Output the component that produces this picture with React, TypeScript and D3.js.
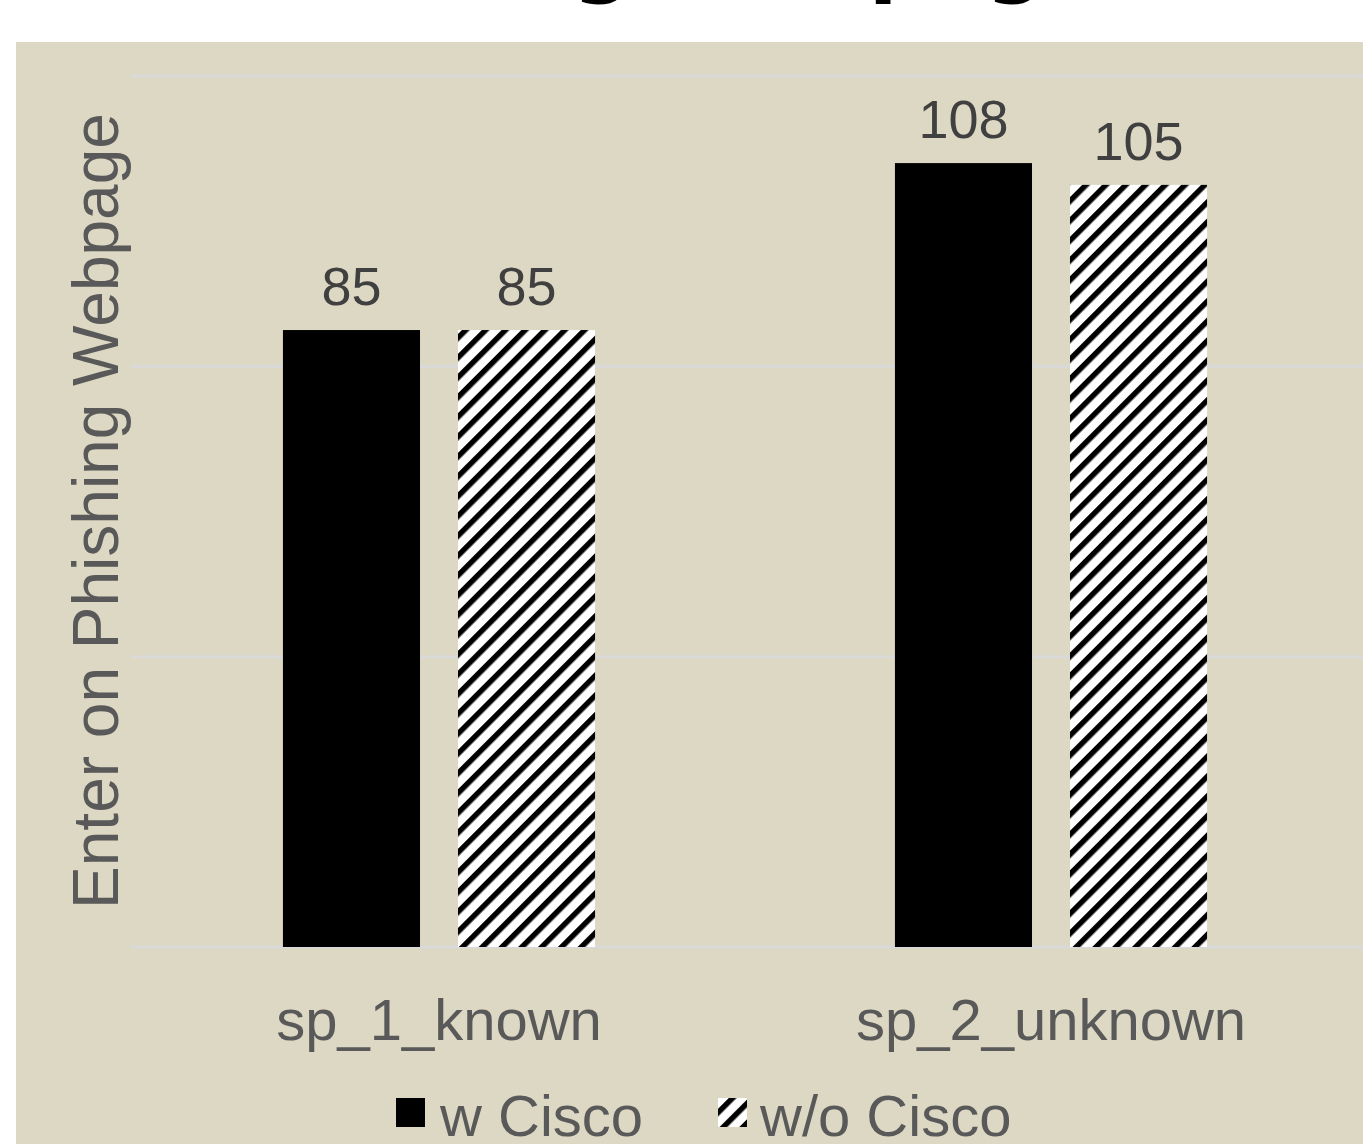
import React, { useEffect, useRef } from 'react';
import * as d3 from 'd3';

const categories = ['sp_1_known', 'sp_2_unknown'];
const seriesNames = ['w Cisco', 'w/o Cisco'];
const wCisco = [85, 108];
const woCisco = [85, 105];
const gridTicks = [0, 40, 80, 120];

const App = () => {
  const ref = useRef<SVGSVGElement | null>(null);

  useEffect(() => {
    const svg = d3.select(ref.current);
    svg.selectAll('*').remove();

    const width = 1363;
    const height = 1144;
    const font = '"Liberation Sans", Arial, sans-serif';

    const defs = svg.append('defs');
    const pat = defs.append('pattern')
      .attr('id', 'hatch')
      .attr('patternUnits', 'userSpaceOnUse')
      .attr('width', 14)
      .attr('height', 14)
      .attr('patternTransform', 'rotate(45)');
    pat.append('rect').attr('width', 14).attr('height', 14).attr('fill', '#fff');
    pat.append('rect').attr('width', 5.5).attr('height', 14).attr('fill', '#000');

    // title, mostly above the visible area (only descenders show)
    svg.append('text')
      .attr('x', 224)
      .attr('y', -13)
      .style('font-family', '"DejaVu Sans", sans-serif')
      .style('font-weight', 'bold')
      .style('font-size', '84px')
      .attr('fill', '#000')
      .text('Phishing Webpage');

    svg.append('rect')
      .attr('x', 16)
      .attr('y', 42)
      .attr('width', width - 16)
      .attr('height', height - 42)
      .attr('fill', '#ddd8c3');

    const x0 = d3.scaleBand<string>()
      .domain(categories)
      .range([133, 1357])
      .paddingInner(0.49)
      .paddingOuter(0.245);
    const x1 = d3.scaleBand<string>()
      .domain(seriesNames)
      .range([0, x0.bandwidth()])
      .paddingInner(0.217);
    const y = d3.scaleLinear().domain([0, 120]).range([947, 76]);

    svg.append('g')
      .selectAll('line')
      .data(gridTicks)
      .enter()
      .append('line')
      .attr('x1', 131)
      .attr('x2', width)
      .attr('y1', d => y(d))
      .attr('y2', d => y(d))
      .attr('stroke', '#d9d9d9')
      .attr('stroke-width', 3);

    const rows = categories.map((c, i) => [
      { cat: c, name: seriesNames[0], value: wCisco[i] },
      { cat: c, name: seriesNames[1], value: woCisco[i] },
    ]).flat();

    const fillFor = (name: string) => (name === seriesNames[0] ? '#000' : 'url(#hatch)');

    svg.append('g')
      .selectAll('rect')
      .data(rows)
      .enter()
      .append('rect')
      .attr('x', d => (x0(d.cat) ?? 0) + (x1(d.name) ?? 0))
      .attr('y', d => y(d.value))
      .attr('width', x1.bandwidth())
      .attr('height', d => y(0) - y(d.value))
      .attr('fill', d => fillFor(d.name));

    svg.append('g')
      .selectAll('text')
      .data(rows)
      .enter()
      .append('text')
      .attr('x', d => (x0(d.cat) ?? 0) + (x1(d.name) ?? 0) + x1.bandwidth() / 2)
      .attr('y', d => y(d.value) - 25)
      .attr('text-anchor', 'middle')
      .style('font-family', font)
      .style('font-size', '54px')
      .attr('fill', '#404040')
      .text(d => d.value);

    svg.append('g')
      .selectAll('text')
      .data(categories)
      .enter()
      .append('text')
      .attr('x', d => (x0(d) ?? 0) + x0.bandwidth() / 2)
      .attr('y', 1040)
      .attr('text-anchor', 'middle')
      .style('font-family', font)
      .style('font-size', '58px')
      .attr('fill', '#595959')
      .text(d => d);

    svg.append('text')
      .attr('transform', 'translate(118,511) rotate(-90)')
      .attr('text-anchor', 'middle')
      .style('font-family', font)
      .style('font-size', '64px')
      .attr('fill', '#595959')
      .text('Enter on Phishing Webpage');

    // legend (bottom is cropped like the source image)
    const legendX = [396, 718];
    const legend = svg.append('g')
      .selectAll('g')
      .data(seriesNames)
      .enter()
      .append('g')
      .attr('transform', (d, i) => `translate(${legendX[i]},0)`);
    legend.append('rect')
      .attr('x', 0)
      .attr('y', 1098)
      .attr('width', 29)
      .attr('height', 29)
      .attr('fill', d => fillFor(d));
    legend.append('text')
      .attr('x', (d, i) => (i === 0 ? 44 : 42))
      .attr('y', 1136)
      .style('font-family', font)
      .style('font-size', '58px')
      .attr('fill', '#595959')
      .text(d => d);
  }, []);

  return (
    <svg
      ref={ref}
      width={1363}
      height={1144}
      style={{ position: 'absolute', top: 0, left: 0, background: '#fff' }}
    />
  );
};

export default App;
